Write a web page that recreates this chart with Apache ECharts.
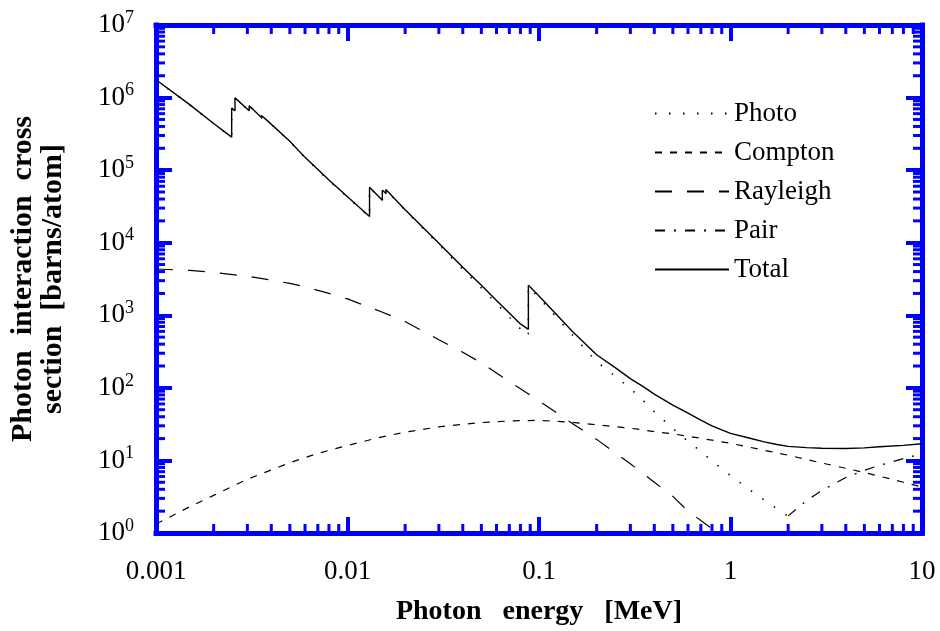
<!DOCTYPE html>
<html><head><meta charset="utf-8">
<script src="https://cdn.jsdelivr.net/npm/echarts@6/dist/echarts.min.js"></script>
<style>html,body{margin:0;padding:0;background:#fff}#c{width:940px;height:631px}</style>
</head><body><div id="c"></div>
<script>
// Photon energy [MeV], cross section [barns/atom]
const photo = [[0.001,1.75e6],[0.0015,7.95e5],[0.002,4.37e5],[0.002484,2.82e5],[0.002484,7.15e5],[0.002586,6.55e5],[0.002586,9.85e5],[0.003066,6.55e5],[0.003066,7.65e5],[0.003554,5.27e5],[0.003554,5.6e5],[0.003851,4.66e5],[0.003851,4.96e5],[0.005,2.47e5],[0.006,1.48e5],[0.008,7.2e4],[0.01,4.23e4],[0.013035,2.25e4],[0.013035,5.75e4],[0.0152,3.8e4],[0.0152,5.25e4],[0.01586,4.75e4],[0.01586,5.35e4],[0.02,2.8e4],[0.03,9.4e3],[0.04,4.3e3],[0.05,2.38e3],[0.06,1.45e3],[0.08,650],[0.088,520],[0.088,2.47e3],[0.1,1.74e3],[0.15,530],[0.2,230],[0.25,145],[0.3,98],[0.35,67],[0.4,47],[0.5,27.5],[0.6,18.3],[0.7,13.3],[0.8,9.8],[0.9,7.7],[1,6.2],[1.25,4.0],[1.5,2.85],[1.75,2.15],[2,1.7]];
const compton = [[0.001,1.33],[0.0015,2.3],[0.002,3.3],[0.003,5.5],[0.005,9.3],[0.007,12.5],[0.01,16.1],[0.015,21],[0.02,24.5],[0.03,29],[0.04,31.5],[0.05,33.2],[0.06,34.3],[0.08,35.3],[0.1,35.6],[0.15,33.5],[0.2,31],[0.3,27.8],[0.4,25],[0.5,23.2],[0.6,21.6],[0.8,19],[1,17.2],[1.5,13.8],[2,11.8],[3,9.2],[4,7.8],[5,6.8],[6,6.06],[8,5.0],[10,4.3]];
const rayleigh = [[0.001,4340],[0.0015,4150],[0.002,3900],[0.003,3450],[0.004,3050],[0.005,2750],[0.006,2480],[0.008,2000],[0.01,1680],[0.015,1120],[0.02,820],[0.03,460],[0.04,310],[0.05,220],[0.06,160],[0.08,97],[0.1,66],[0.15,32],[0.2,19.5],[0.3,9],[0.4,5],[0.5,3.2],[0.6,2.0],[0.8,1.15],[1,0.75]];
const pair = [[2,1.72],[2.5,2.8],[3,3.85],[4,5.8],[5,7.3],[6,8.55],[8,10.6],[10,12.3]];
const total = [[0.001,1.76e6],[0.0015,8.0e5],[0.002,4.4e5],[0.002484,2.85e5],[0.002484,7.2e5],[0.002586,6.6e5],[0.002586,9.9e5],[0.003066,6.6e5],[0.003066,7.7e5],[0.003554,5.3e5],[0.003554,5.65e5],[0.003851,4.7e5],[0.003851,5.0e5],[0.005,2.5e5],[0.006,1.5e5],[0.008,7.3e4],[0.01,4.3e4],[0.013035,2.3e4],[0.013035,5.8e4],[0.0152,3.85e4],[0.0152,5.3e4],[0.01586,4.8e4],[0.01586,5.4e4],[0.02,2.85e4],[0.03,9.8e3],[0.04,4.6e3],[0.05,2.6e3],[0.06,1.6e3],[0.08,760],[0.088,640],[0.088,2.6e3],[0.1,1.85e3],[0.15,592],[0.2,286],[0.25,190],[0.3,134],[0.35,104],[0.4,82],[0.5,58],[0.6,45],[0.7,36],[0.8,29.9],[0.9,26.4],[1,23.6],[1.25,20.4],[1.5,18.0],[1.75,16.6],[2,15.6],[2.5,15.0],[3,14.7],[4,14.6],[5,14.9],[6,15.4],[8,16.1],[10,17]];

const seriesNames = ['Photo','Compton','Rayleigh','Pair','Total'];
const xTickLabels = ['0.001','0.01','0.1','1','10'];
const xMinorTicks = [0.002,0.003,0.004,0.005,0.006,0.007,0.008,0.009,0.02,0.03,0.04,0.05,0.06,0.07,0.08,0.09,0.2,0.3,0.4,0.5,0.6,0.7,0.8,0.9,2,3,4,5,6,7,8,9];
const yMinorTicks = [2,3,4,5,6,7,8,9,20,30,40,50,60,70,80,90,200,300,400,500,600,700,800,900,2e3,3e3,4e3,5e3,6e3,7e3,8e3,9e3,2e4,3e4,4e4,5e4,6e4,7e4,8e4,9e4,2e5,3e5,4e5,5e5,6e5,7e5,8e5,9e5,2e6,3e6,4e6,5e6,6e6,7e6,8e6,9e6];

const X_MIN = 0.001, X_MAX = 10, Y_MIN = 1, Y_MAX = 1e7;
const BLUE = '#0000ff';
const FONT = 'Liberation Serif';

const minorData = [];
xMinorTicks.forEach(v => { minorData.push([v, Y_MIN, 0]); minorData.push([v, Y_MAX, 1]); });
yMinorTicks.forEach(v => { minorData.push([X_MIN, v, 2]); minorData.push([X_MAX, v, 3]); });

function frameAxis(extra) {
  return Object.assign({
    type: 'log', logBase: 10,
    axisLine: { show: true, onZero: false, lineStyle: { color: BLUE, width: 5, cap: 'square' } },
    axisTick: { show: true, inside: true, length: 16, lineStyle: { color: BLUE, width: 4 } },
    splitLine: { show: false },
    minorTick: { show: false }
  }, extra);
}

const chart = echarts.init(document.getElementById('c'));
const lineCommon = { type: 'line', symbol: 'none', showSymbol: false, animation: false, clip: true, z: 3 };
chart.setOption({
  animation: false,
  backgroundColor: '#fff',
  grid: { left: 154, right: 18, top: 25, bottom: 96 },
  legend: {
    data: seriesNames, orient: 'vertical', left: 649, top: 95,
    itemWidth: 74, itemHeight: 14, itemGap: 12, selectedMode: false,
    itemStyle: { opacity: 0 },
    textStyle: { fontFamily: FONT, fontSize: 27, color: '#000', lineHeight: 26 }
  },
  xAxis: [
    frameAxis({ min: X_MIN, max: X_MAX, position: 'bottom',
      axisLabel: { show: true, margin: 25, fontFamily: FONT, fontSize: 27, color: '#000',
        formatter: v => xTickLabels[Math.round(Math.log10(v)) + 3] },
      name: 'Photon   energy   [MeV]', nameLocation: 'middle', nameGap: 65,
      nameTextStyle: { fontFamily: FONT, fontSize: 28, fontWeight: 'bold', color: '#000' } }),
    frameAxis({ min: X_MIN, max: X_MAX, position: 'top', axisLabel: { show: false } })
  ],
  yAxis: [
    frameAxis({ min: Y_MIN, max: Y_MAX, position: 'left',
      axisLabel: { show: true, margin: 22, fontFamily: FONT, color: '#000',
        formatter: v => '{b|10}{s|' + Math.round(Math.log10(v)) + '}',
        rich: { b: { fontFamily: FONT, fontSize: 27, lineHeight: 32, color: '#000' },
                s: { fontFamily: FONT, fontSize: 18, lineHeight: 16, verticalAlign: 'top', color: '#000' } } },
      name: 'Photon  interaction  cross\nsection  [barns/atom]', nameLocation: 'middle', nameGap: 88,
      nameTextStyle: { fontFamily: FONT, fontSize: 30, fontWeight: 'bold', color: '#000', lineHeight: 30 } }),
    frameAxis({ min: Y_MIN, max: Y_MAX, position: 'right', axisLabel: { show: false } })
  ],
  series: [
    Object.assign({}, lineCommon, { name: 'Photo', data: photo, lineStyle: { color: '#000', width: 1.6, type: [1.5, 12.5] } }),
    Object.assign({}, lineCommon, { name: 'Compton', data: compton, lineStyle: { color: '#000', width: 1.2, type: [7, 8] } }),
    Object.assign({}, lineCommon, { name: 'Rayleigh', data: rayleigh, lineStyle: { color: '#000', width: 1.2, type: [17, 15] } }),
    Object.assign({}, lineCommon, { name: 'Pair', data: pair, lineStyle: { color: '#000', width: 1.2, type: [10, 9, 2, 9] } }),
    Object.assign({}, lineCommon, { name: 'Total', data: total, lineStyle: { color: '#000', width: 1.4, type: 'solid' } }),
    {
      type: 'custom', name: 'minorTicks', data: minorData, silent: true, clip: false, z: 5,
      xAxisIndex: 0, yAxisIndex: 0, animation: false,
      renderItem: function (params, api) {
        const p = api.coord([api.value(0), api.value(1)]);
        const d = api.value(2), L = 9;
        let x2 = p[0], y2 = p[1];
        if (d === 0) y2 -= L; else if (d === 1) y2 += L; else if (d === 2) x2 += L; else x2 -= L;
        return { type: 'line', shape: { x1: p[0], y1: p[1], x2: x2, y2: y2 }, style: { stroke: BLUE, lineWidth: 3 } };
      }
    }
  ]
});
</script></body></html>
